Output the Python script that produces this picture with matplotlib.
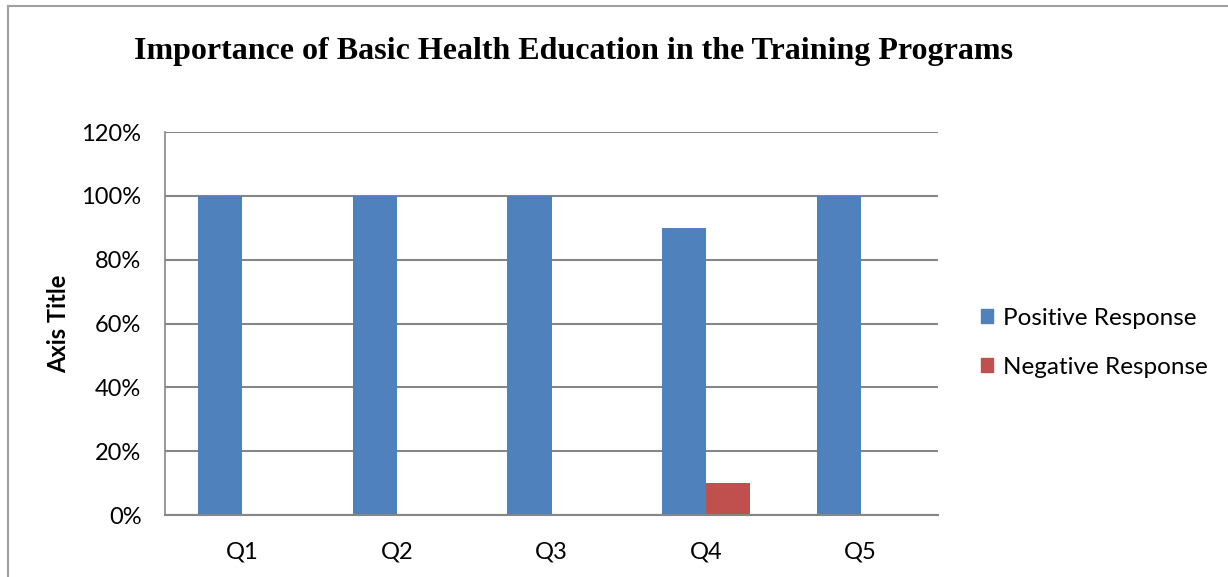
import numpy as np
import matplotlib.pyplot as plt
from matplotlib.lines import Line2D
from matplotlib.patches import Patch

# данные
categories = ["Q1", "Q2", "Q3", "Q4", "Q5"]
positive = [1.00, 1.00, 1.00, 0.90, 1.00]
negative = [0.00, 0.00, 0.00, 0.10, 0.00]
yticks = [0.0, 0.2, 0.4, 0.6, 0.8, 1.0, 1.2]
ytick_labels = ["0%", "20%", "40%", "60%", "80%", "100%", "120%"]

blue = "#4F81BD"
red = "#C0504D"
grid_col = "#868686"
sans = "Lato"

fig = plt.figure(figsize=(12.28, 5.77), dpi=100)
ax = fig.add_axes([165 / 1228, 62 / 577, 773 / 1228, 383 / 577])

x = np.arange(len(categories))
w = 0.285
ax.bar(x - w / 2, positive, w, color=blue, label="Positive Response")
ax.bar(x + w / 2, negative, w, color=red, label="Negative Response")

ax.set_xlim(-0.5, len(categories) - 0.5)
ax.set_ylim(0, 1.2)
ax.set_yticks(yticks)
ax.set_yticklabels(ytick_labels, fontsize=17, fontfamily=sans)
ax.set_xticks(x)
ax.set_xticklabels(categories, fontsize=17, fontfamily=sans)
ax.tick_params(axis="y", length=0, pad=17)
ax.tick_params(axis="x", length=0, pad=19)

ax.yaxis.grid(True, color=grid_col, linewidth=1.5)
ax.set_axisbelow(True)
for s in ["top", "right"]:
    ax.spines[s].set_visible(False)
ax.spines["left"].set_color(grid_col)
ax.spines["bottom"].set_color(grid_col)
ax.spines["left"].set_linewidth(1.2)
ax.spines["bottom"].set_linewidth(1.5)

ax.set_ylabel("Axis Title", fontsize=17, fontweight="bold", fontfamily=sans, labelpad=8)

fig.text(573 / 1228, 1 - 51 / 577, "Importance of Basic Health Education in the Training Programs",
         ha="center", va="center", fontsize=23, fontweight="bold", fontfamily="Liberation Serif")

handles = [Patch(color=blue), Patch(color=red)]
fig.legend(handles, ["Positive Response", "Negative Response"],
           loc="center left", bbox_to_anchor=(959 / 1228, 1 - 343 / 577),
           frameon=False, prop={"family": sans, "size": 17.5},
           handlelength=0.5, handleheight=0.5, handletextpad=0.4, labelspacing=1.15)

# рамка вокруг диаграммы
fig.add_artist(Line2D([7.5 / 1228, 7.5 / 1228], [0, 1 - 5.5 / 577], color="#A0A0A0", lw=1.5,
                      transform=fig.transFigure))
fig.add_artist(Line2D([7.5 / 1228, 1], [1 - 5.5 / 577, 1 - 5.5 / 577], color="#A0A0A0", lw=1.5,
                      transform=fig.transFigure))

fig.savefig("out.png", dpi=100)
